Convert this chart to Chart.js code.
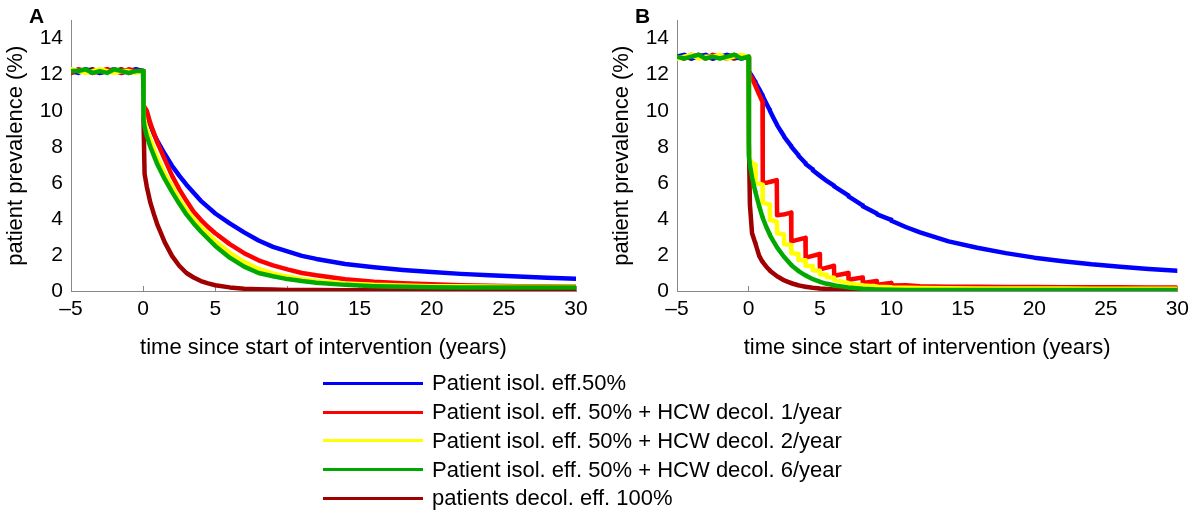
<!DOCTYPE html>
<html>
<head>
<meta charset="utf-8">
<script src="https://cdn.jsdelivr.net/npm/chart.js@4.4.1/dist/chart.umd.min.js"></script>
<style>
  html, body { margin: 0; padding: 0; background: #fff; }
  body { width: 1200px; height: 515px; position: relative; overflow: hidden; font-family: 'Liberation Sans', Arial, sans-serif; }
  canvas { position: absolute; top: 0; }
  #chartA { left: 0; }
  #chartB { left: 606px; }
  .tag { position: absolute; top: 4px; font-weight: bold; font-size: 21px; line-height: 24px; }
  #legend { position: absolute; left: 323px; top: 369px; }
  .row { height: 28.75px; display: flex; align-items: center; font-size: 22px; white-space: nowrap; }
  .swatch { width: 100px; height: 3px; margin-right: 9px; }
</style>
</head>
<body>
<canvas id="chartA" width="600" height="370"></canvas>
<canvas id="chartB" width="594" height="370"></canvas>
<div class="tag" style="left:29px">A</div>
<div class="tag" style="left:635px">B</div>
<div id="legend"></div>

<script>
// series names / colours (legend order)
const seriesNames = [
  'Patient isol. eff.50%',
  'Patient isol. eff. 50% + HCW decol. 1/year',
  'Patient isol. eff. 50% + HCW decol. 2/year',
  'Patient isol. eff. 50% + HCW decol. 6/year',
  'patients decol. eff. 100%'
];
const seriesColors = ['#0000ff', '#ff0000', '#ffff00', '#00a800', '#a00000'];
// drawing order: green on top, dark red at the back
const seriesOrder = [3, 2, 1, 0, 4];

const xTicks = [-5, 0, 5, 10, 15, 20, 25, 30];
const yTicks = [0, 2, 4, 6, 8, 10, 12, 14];

// ---------- panel A ----------
const timeA = [-5, -4.5, -4, -3.5, -3, -2.5, -2, -1.5, -1, -0.5, 0,
  0.03, 0.1, 0.25, 0.5, 0.75, 1, 1.5, 2, 2.5, 3, 3.5, 4, 4.5, 5,
  6, 7, 8, 9, 10, 11, 12, 14, 16, 18, 20, 22, 24, 26, 28, 30];

const blueA = [12.2, 12.1, 12.3, 12.2, 12.1, 12.2, 12.3, 12.1, 12.2, 12.3, 12.2,
  10.2, 10.0, 9.7, 9.2, 8.7, 8.3, 7.6, 6.95, 6.4, 5.9, 5.45, 5.0, 4.65, 4.3,
  3.75, 3.25, 2.8, 2.45, 2.2, 1.95, 1.78, 1.5, 1.32, 1.17, 1.05, 0.95, 0.87, 0.8, 0.74, 0.68];
const redA = [12.1, 12.3, 12.2, 12.1, 12.2, 12.3, 12.2, 12.1, 12.3, 12.2, 12.2,
  10.3, 10.2, 10.0, 9.3, 8.75, 8.2, 7.3, 6.4, 5.65, 5.0, 4.4, 3.95, 3.55, 3.2,
  2.6, 2.1, 1.7, 1.42, 1.2, 1.0, 0.87, 0.65, 0.52, 0.43, 0.37, 0.32, 0.29, 0.27, 0.26, 0.25];
const yellowA = [12.3, 12.2, 12.1, 12.2, 12.3, 12.2, 12.1, 12.2, 12.2, 12.1, 12.2,
  9.8, 9.45, 9.0, 8.4, 7.85, 7.35, 6.5, 5.8, 5.1, 4.5, 4.0, 3.55, 3.15, 2.78,
  2.12, 1.62, 1.22, 0.98, 0.8, 0.66, 0.56, 0.42, 0.34, 0.3, 0.27, 0.26, 0.25, 0.24, 0.24, 0.23];
const greenA = [12.2, 12.2, 12.3, 12.1, 12.2, 12.1, 12.3, 12.2, 12.1, 12.2, 12.2,
  9.5, 9.1, 8.6, 8.0, 7.5, 7.0, 6.2, 5.5, 4.85, 4.25, 3.75, 3.3, 2.9, 2.5,
  1.85, 1.35, 1.0, 0.82, 0.66, 0.55, 0.46, 0.34, 0.27, 0.23, 0.21, 0.2, 0.2, 0.19, 0.19, 0.19];
const darkRedA = [12.1, 12.2, 12.2, 12.3, 12.1, 12.2, 12.2, 12.3, 12.1, 12.2, 12.2,
  9.3, 6.5, 5.8, 4.9, 4.25, 3.65, 2.7, 1.95, 1.4, 1.0, 0.75, 0.55, 0.42, 0.32,
  0.2, 0.13, 0.1, 0.08, 0.06, 0.05, 0.05, 0.04, 0.04, 0.03, 0.03, 0.03, 0.03, 0.03, 0.03, 0.03];

// ---------- panel B ----------
const timeB = [-5, -4.5, -4, -3.5, -3, -2.5, -2, -1.5, -1, -0.5, 0,
  0.03, 0.1, 0.25, 0.48, 0.5, 0.75, 0.98, 1,
  1.25, 1.48, 1.5, 1.75, 1.98, 2,
  2.48, 2.5, 2.98, 3, 3.48, 3.5, 3.98, 4, 4.48, 4.5, 4.98, 5, 5.48, 5.5, 5.98, 6,
  6.98, 7, 7.98, 8, 8.98, 9, 9.98, 10,
  11, 12, 14, 16, 18, 20, 22, 24, 26, 28, 30];

const blueB = [13.0, 13.1, 12.9, 13.0, 13.1, 12.9, 13.0, 13.1, 13.0, 12.9, 13.0,
  12.2, 12.1, 11.9, 11.6, 11.55, 11.2, 10.85, 10.8,
  10.4, 10.05, 10.0, 9.6, 9.25, 9.2,
  8.6, 8.55, 8.05, 8.0, 7.55, 7.5, 7.1, 7.05, 6.75, 6.7, 6.4, 6.4, 6.1, 6.1, 5.85, 5.8,
  5.3, 5.25, 4.75, 4.7, 4.3, 4.25, 3.95, 3.9,
  3.55, 3.25, 2.75, 2.4, 2.1, 1.85, 1.65, 1.48, 1.35, 1.22, 1.12];
const redB = [13.0, 12.9, 13.1, 13.0, 12.9, 13.1, 13.0, 12.9, 13.1, 13.0, 13.0,
  12.2, 12.0, 11.8, 11.4, 11.35, 10.9, 10.5, 6.0,
  6.0, 6.05, 6.05, 6.1, 6.15, 4.2,
  4.25, 4.25, 4.35, 2.75, 2.85, 2.85, 2.95, 1.85, 1.95, 1.95, 2.05, 1.2, 1.3, 1.3, 1.4, 0.85,
  1.0, 0.62, 0.75, 0.45, 0.55, 0.35, 0.45, 0.3,
  0.32, 0.27, 0.24, 0.23, 0.22, 0.22, 0.21, 0.21, 0.21, 0.2, 0.2];
const yellowB = [12.9, 13.0, 13.1, 12.9, 13.0, 13.0, 13.1, 12.9, 13.0, 13.1, 13.0,
  7.6, 7.3, 7.1, 7.0, 6.0, 5.95, 5.9, 4.9,
  4.85, 4.8, 3.95, 3.9, 3.85, 3.2,
  3.15, 2.6, 2.55, 2.1, 2.05, 1.72, 1.7, 1.4, 1.38, 1.15, 1.12, 0.93, 0.9, 0.77, 0.74, 0.62,
  0.45, 0.4, 0.32, 0.3, 0.25, 0.24, 0.21, 0.2,
  0.18, 0.17, 0.15, 0.14, 0.14, 0.14, 0.14, 0.13, 0.13, 0.13, 0.13];
const greenB = [13.0, 12.9, 13.0, 13.1, 12.9, 13.0, 12.9, 13.0, 13.1, 12.9, 13.0,
  7.5, 7.0, 6.3, 5.5, 5.45, 4.7, 4.1, 4.05,
  3.55, 3.15, 3.1, 2.75, 2.45, 2.42,
  1.9, 1.88, 1.45, 1.43, 1.12, 1.1, 0.87, 0.86, 0.67, 0.66, 0.52, 0.51, 0.4, 0.4, 0.32, 0.31,
  0.2, 0.2, 0.13, 0.13, 0.09, 0.09, 0.07, 0.07,
  0.06, 0.05, 0.05, 0.05, 0.05, 0.05, 0.05, 0.05, 0.05, 0.05, 0.05];
const darkRedB = [13.0, 13.0, 12.9, 13.1, 13.0, 12.9, 13.0, 13.0, 12.9, 13.0, 13.0,
  8.3, 4.8, 3.2, 2.65, 2.6, 1.95, 1.62, 1.6,
  1.35, 1.15, 1.13, 0.97, 0.83, 0.82,
  0.6, 0.59, 0.44, 0.43, 0.32, 0.31, 0.24, 0.23, 0.18, 0.18, 0.14, 0.14, 0.11, 0.11, 0.09, 0.09,
  0.07, 0.07, 0.06, 0.06, 0.05, 0.05, 0.04, 0.04,
  0.04, 0.04, 0.03, 0.03, 0.03, 0.03, 0.03, 0.03, 0.03, 0.03, 0.03];

const FONT = "'Liberation Sans', Arial, sans-serif";

function buildDatasets(times, seriesList) {
  return seriesList.map((vals, i) => ({
    label: seriesNames[i],
    data: times.map((t, k) => ({ x: t, y: vals[k] })),
    borderColor: seriesColors[i],
    backgroundColor: seriesColors[i],
    borderWidth: 4.5,
    borderJoinStyle: 'round',
    borderCapStyle: 'round',
    pointRadius: 0,
    tension: 0,
    fill: false,
    order: seriesOrder[i]
  }));
}

function drawPanel(canvasId, times, seriesList, padRight) {
  const ctx = document.getElementById(canvasId).getContext('2d');
  return new Chart(ctx, {
    type: 'line',
    data: { datasets: buildDatasets(times, seriesList) },
    options: {
      responsive: false,
      animation: false,
      layout: { padding: { top: 13, right: padRight, bottom: 0, left: 0 } },
      plugins: { legend: { display: false }, tooltip: { enabled: false } },
      scales: {
        x: {
          type: 'linear',
          min: xTicks[0],
          max: xTicks[xTicks.length - 1],
          afterBuildTicks: s => { s.ticks = xTicks.map(v => ({ value: v })); },
          afterFit: s => { s.height = 79; },
          ticks: {
            autoSkip: false, maxRotation: 0, padding: 11,
            color: '#000', font: { family: FONT, size: 21 },
            callback: v => v < 0 ? '\u2013' + Math.abs(v) : String(v)
          },
          grid: { display: true, drawOnChartArea: false, drawTicks: true, tickLength: -5, color: '#888', lineWidth: 1 },
          border: { display: true, color: '#888', width: 1 },
          title: {
            display: true, text: 'time since start of intervention (years)',
            color: '#000', font: { family: FONT, size: 22 }, padding: { top: 0, bottom: 9 }
          }
        },
        y: {
          min: 0,
          max: 15,
          afterBuildTicks: s => { s.ticks = yTicks.map(v => ({ value: v })); },
          afterFit: s => { s.width = 71; },
          ticks: { padding: 8, color: '#000', font: { family: FONT, size: 21 } },
          grid: { display: false, drawTicks: false },
          border: { display: true, color: '#888', width: 1 },
          title: {
            display: true, text: 'patient prevalence (%)',
            color: '#000', font: { family: FONT, size: 22 }, padding: { top: 3, bottom: 0 }
          }
        }
      }
    }
  });
}

drawPanel('chartA', timeA, [blueA, redA, yellowA, greenA, darkRedA], 24);
drawPanel('chartB', timeB, [blueB, redB, yellowB, greenB, darkRedB], 13);

// legend below the panels
const legend = document.getElementById('legend');
seriesNames.forEach((name, i) => {
  const row = document.createElement('div');
  row.className = 'row';
  row.innerHTML = `<span class="swatch" style="background:${seriesColors[i]}"></span><span>${name}</span>`;
  legend.appendChild(row);
});
</script>
</body>
</html>
